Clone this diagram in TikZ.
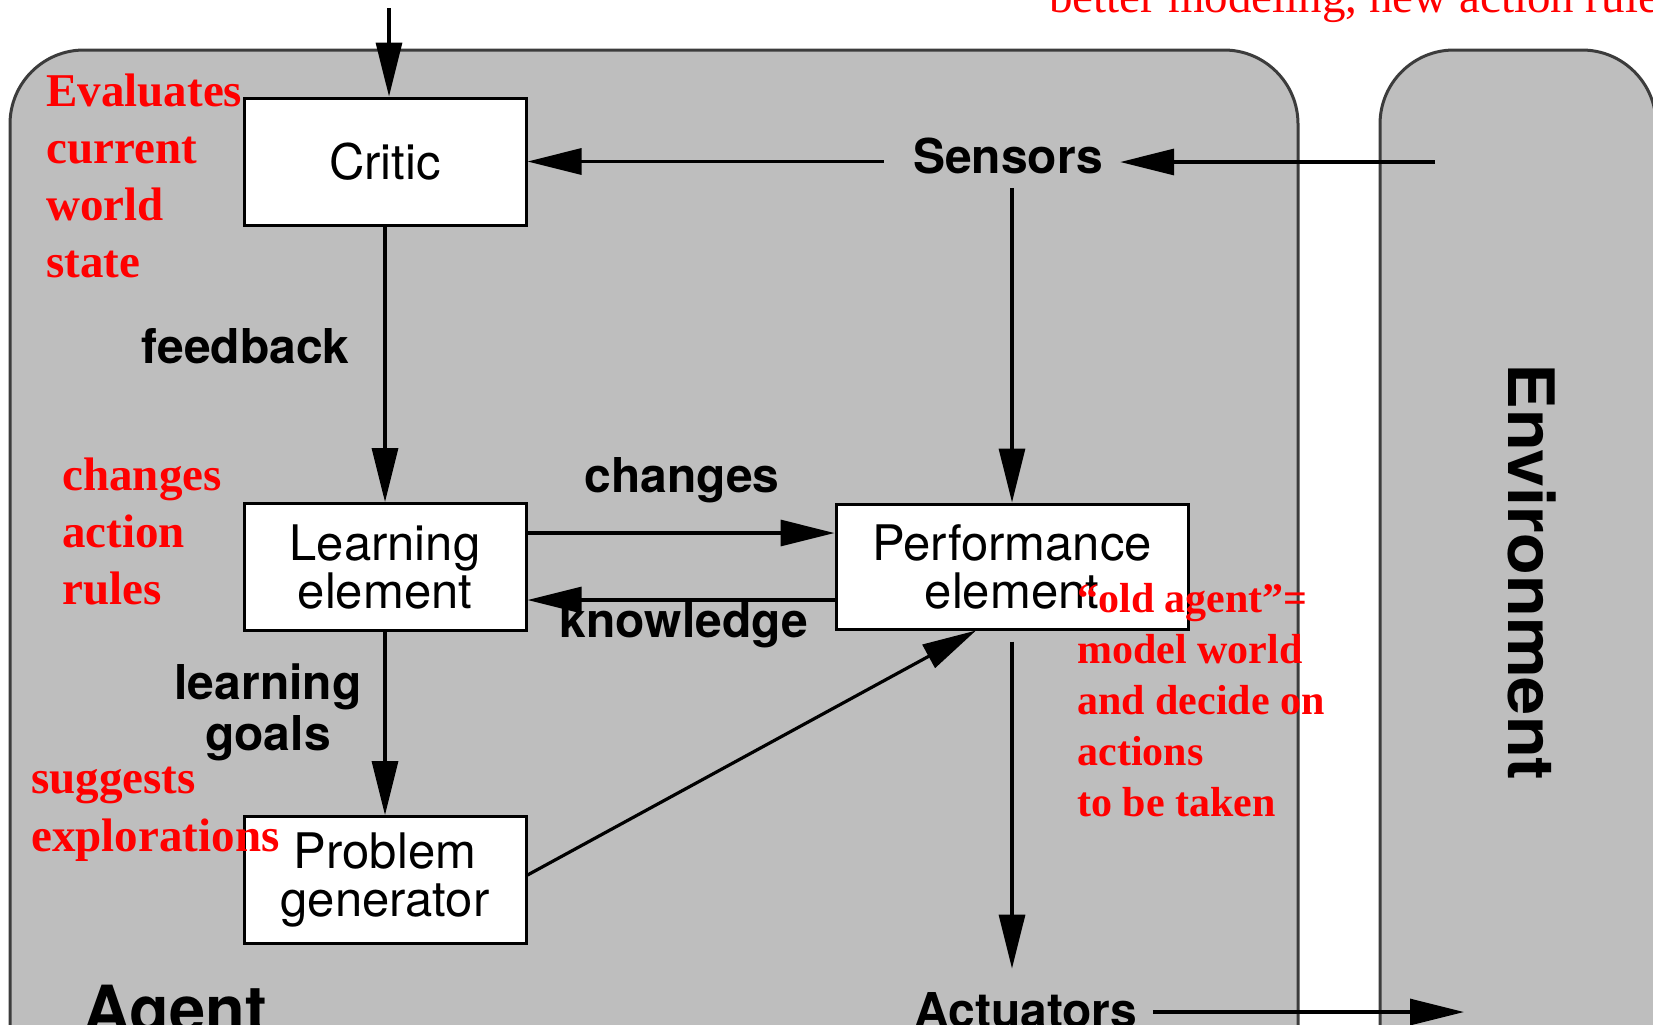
\documentclass[tikz,border=0pt]{standalone}
\usepackage{fontspec}
\usepackage{graphicx}
\usetikzlibrary{arrows.meta}
\newfontfamily\hv{TeX Gyre Heros}
\newfontfamily\tms{Liberation Serif}
\definecolor{agentgray}{RGB}{190,190,190}
\definecolor{edgegray}{RGB}{60,60,60}
\definecolor{annred}{RGB}{255,0,0}
\begin{document}
\begin{tikzpicture}[x=0.5pt,y=-0.5pt,
  arr/.style={-{Triangle[length=27pt,width=13pt]}, line width=1.6pt, black},
  box/.style={draw=black, line width=1.5pt, fill=white, minimum width=141pt, minimum height=63.5pt, inner sep=0pt, align=center, font={\hv\fontsize{24.5}{24}\selectfont}},
  lbl/.style={inner sep=0pt, font={\hv\bfseries\fontsize{24}{25.5}\selectfont}},
  redl/.style={inner sep=0pt, anchor=base west, text=annred, font={\tms\bfseries\fontsize{23.5}{28.5}\selectfont}},
  redr/.style={inner sep=0pt, anchor=base west, text=annred, font={\tms\bfseries\fontsize{21}{25.5}\selectfont}},
  panel/.style={fill=agentgray, draw=edgegray, line width=1.5pt, rounded corners=37pt}
]
\useasboundingbox (0,0) rectangle (1653,1024);
\fill[white] (0,0) rectangle (1653,1024);
\clip (0,0) rectangle (1653,1024);

% panels
\draw[panel] (10,50) rectangle (1298,1150);
\draw[panel] (1380,50) rectangle (1656,1150);

% boxes
\node[box] (critic) at (385,161.5) {Critic};
\node[box] (learn) at (385,567) {Learning\\element};
\node[box, minimum width=176pt, minimum height=62.5pt] (perf) at (1012,566.5) {Performance\\element};
\node[box] (prob) at (385,880) {Problem\\generator};

% labels
\node[lbl, anchor=base] (sensors) at (1008,173) {Sensors};
\node[lbl, anchor=base east] (fb) at (350,363) {feedback};
\node[lbl, anchor=north, align=center] (lg) at (268,663) {learning\\goals};
\node[lbl, anchor=base] (chg) at (682,492) {changes};
\node[lbl, anchor=base] (knw) at (684,637) {knowledge};
\node[lbl, anchor=base west] (act) at (914,1027) {Actuators};
\node[lbl, anchor=base west, font={\hv\bfseries\fontsize{32.5}{33}\selectfont}] (agent) at (83,1032) {Agent};
\node[inner sep=0pt, anchor=base, rotate=-90, font={\hv\bfseries\fontsize{32}{32}\selectfont}] (env) at (1508,572) {\scalebox{1.07}[1]{Environment}};

% red annotations
\foreach \t [count=\i] in {Evaluates,current,world,state}
  \node[redl] (ev\i) at (46,{106+57*(\i-1)}) {\t};
\foreach \t [count=\i] in {changes,action,rules}
  \node[redl] (ch\i) at (62,{490+57*(\i-1)}) {\t};
\foreach \t [count=\i] in {suggests,explorations}
  \node[redl] (sg\i) at (31,{793+58*(\i-1)}) {\t};
\foreach \t [count=\i] in {“old agent”=,model world,and decide on,actions,to be taken}
  \node[redr] (ol\i) at (1077,{612+51*(\i-1)}) {\t};
\node[inner sep=0pt, anchor=base west, text=annred, font={\tms\fontsize{23.5}{28}\selectfont}] (topnote) at (1049,12) {better modeling, new action rules};

% connectors
\coordinate (inTop) at (389,8);
\draw[arr] (inTop) -- (inTop |- critic.north);
\draw[arr] ([xshift=-14.5pt]sensors.west |- critic.east) -- (critic.east);
\coordinate (envS) at (1435,162);
\draw[arr] (envS) -- ([xshift=8.5pt]sensors.east |- envS);
\draw[arr] ([yshift=-7pt]sensors.south -| perf.north) -- (perf.north);
\draw[arr] (critic) -- (learn);
\coordinate (yc) at (0,533);
\coordinate (yk) at (0,600);
\draw[arr] (learn.east |- yc) -- (perf.west |- yc);
\draw[arr] (perf.west |- yk) -- (learn.east |- yk);
\draw[arr] (learn) -- (prob);
\draw[arr] ([yshift=2.5pt]prob.east) -- ([xshift=-18pt]perf.south);
\draw[arr] ([yshift=-5.5pt]perf.south) -- ([yshift=11.5pt]perf.south |- act.north);
\coordinate (envA) at (1464,1012);
\draw[arr] ([xshift=7.5pt]act.east |- envA) -- (envA);
\end{tikzpicture}
\end{document}
